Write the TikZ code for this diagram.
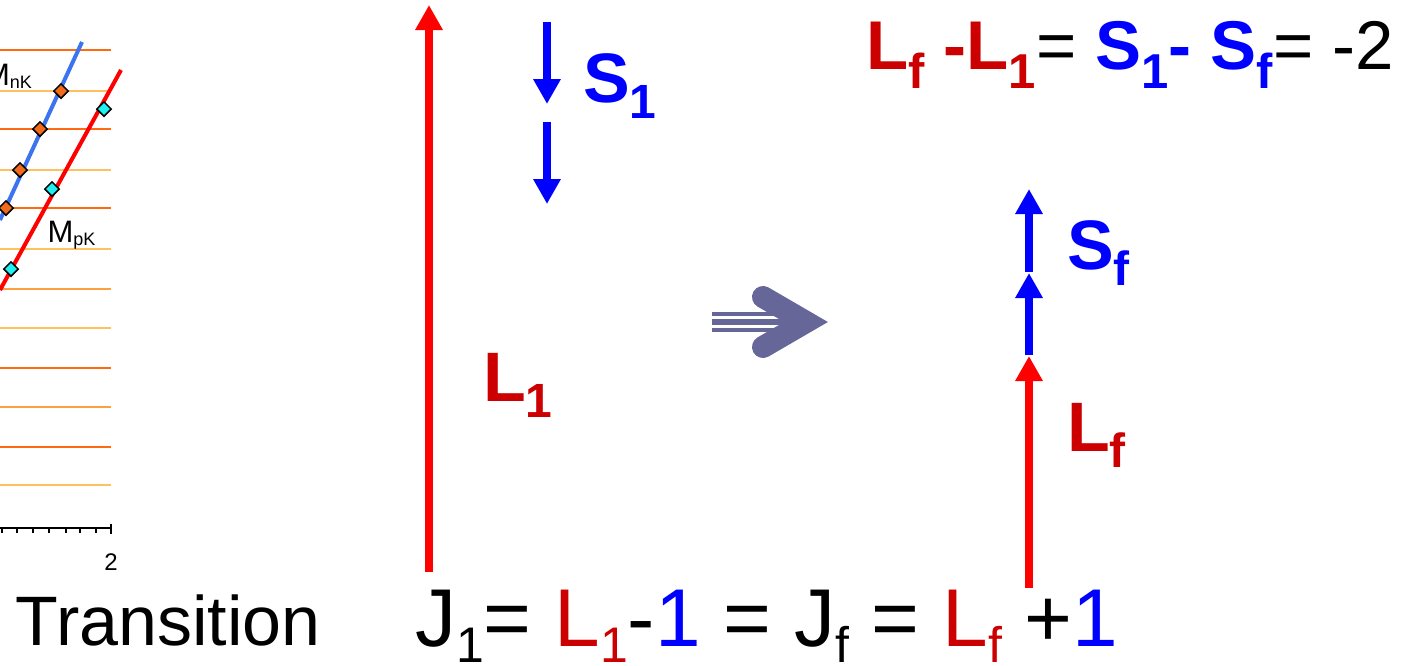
\documentclass[tikz,border=0pt]{standalone}
\usepackage{fontspec}
\setmainfont{Liberation Sans}
\usetikzlibrary{arrows.meta,shapes.geometric}
\definecolor{dred}{HTML}{CC0000}
\definecolor{ared}{HTML}{FF0000}
\definecolor{eblue}{HTML}{0000FF}
\definecolor{purp}{HTML}{666699}
\definecolor{gdark}{HTML}{FF6A10}
\definecolor{gmid}{HTML}{FFA040}
\definecolor{glight}{HTML}{FFC060}
\definecolor{dorange}{HTML}{F26B1D}
\definecolor{dcyan}{HTML}{20F0F0}
\definecolor{lblue}{HTML}{3C74F0}
\newcommand\tsub[1]{\raisebox{-9.5pt}{\fontsize{24.5pt}{24.5pt}\selectfont #1}}
\newcommand\bsub[1]{\raisebox{-8pt}{\fontsize{25pt}{25pt}\selectfont #1}}
\newcommand\lsub[1]{\raisebox{-8pt}{\fontsize{24pt}{24pt}\selectfont #1}}
\newcommand\msub[1]{\raisebox{-1.5pt}{\fontsize{9pt}{9pt}\selectfont #1}}
\begin{document}
\begin{tikzpicture}[x=0.5pt,y=-0.5pt,
  vecarrow/.style={line width=4.2pt,-{Triangle[width=13pt,length=12.5pt]}},
  txt/.style={anchor=base west, inner sep=0pt, outer sep=0pt},
  bigtxt/.style={txt, font=\fontsize{35pt}{35pt}\selectfont\bfseries},
  dia/.style={diamond, draw=black, line width=0.75pt, inner sep=0pt, minimum width=7.5pt, minimum height=7.5pt},
  odia/.style={dia, fill=dorange},
  cdia/.style={dia, fill=dcyan},
  gridline/.style={line width=0.6pt}]
\useasboundingbox (0,0) rectangle (1416,665);
\fill[white] (0,0) rectangle (1416,665);

% ---- chart fragment ----
\foreach \yy/\cc in {50/gdark,91/glight,129/gdark,170/glight,208/gdark,249/glight,289/gmid,328/glight,368/gdark,407/gmid,447/gdark,485/glight}
  \draw[gridline,\cc] (0,\yy) -- (111,\yy);
\draw[line width=0.75pt] (0,528) -- (111.5,528);
\foreach \xx in {2,17,33,49,66,80,96}
  \draw[line width=0.6pt] (\xx,528) -- (\xx,533);
\draw[line width=0.75pt] (111,524) -- (111,534);
\node[anchor=base, inner sep=0pt, font=\fontsize{12pt}{12pt}\selectfont] (xlab) at (111,570) {2};

\coordinate (bl0) at (0,220);
\coordinate (bl1) at (82,42);
\coordinate (rl0) at (0,290);
\coordinate (rl1) at (121,70);
\draw[lblue, line width=2pt] (bl0) -- (bl1);
\draw[ared, line width=2pt] (rl0) -- (rl1);
\node[odia] (o1) at (61,91) {};
\node[odia] (o2) at (40,129) {};
\node[odia] (o3) at (20,170) {};
\node[odia] (o4) at (6,208) {};
\node[cdia] (c1) at (104,109) {};
\node[cdia] (c2) at (52,189) {};
\node[cdia] (c3) at (11,269) {};
\node[txt, font=\fontsize{15.5pt}{15.5pt}\selectfont] (mnk) at (-16,85) {M\msub{nK}};
\node[txt, font=\fontsize{15.5pt}{15.5pt}\selectfont] (mpk) at (47.5,242) {M\msub{pK}};

% ---- bottom text ----
\node[txt, font=\fontsize{35pt}{35pt}\selectfont] (trans) at (16,645) {Transition};
\node[txt, font=\fontsize{41pt}{41pt}\selectfont] (boteq) at (415,646)
  {J\bsub{1}= \textcolor{dred}{L\bsub{1}}-\textcolor{eblue}{1} = J\bsub{f} = \textcolor{dred}{L\bsub{f}} +\textcolor{eblue}{1}};

% ---- top equation ----
\node[txt, font=\fontsize{34.5pt}{34.5pt}\selectfont] (topeq) at (866,69)
  {\textcolor{dred}{\bfseries L\tsub{f} -L\tsub{1}}= \textcolor{eblue}{\bfseries S\tsub{1}- S\tsub{f}}= -2};

% ---- initial state ----
\coordinate (L1a) at (429,572);
\coordinate (L1b) at (429,5);
\draw[vecarrow, ared] (L1a) -- (L1b);
\coordinate (S1a) at (547,22);
\coordinate (S1b) at (547,104);
\coordinate (S2a) at (547,122);
\coordinate (S2b) at (547,204);
\draw[vecarrow, eblue] (S1a) -- (S1b);
\draw[vecarrow, eblue] (S2a) -- (S2b);
\node[bigtxt, eblue] (S1lab) at (583,102) {S\lsub{1}};
\node[bigtxt, dred] (L1lab) at (483,401) {L\lsub{1}};

% ---- transition arrow ----
\coordinate (sh0) at (712,314);
\coordinate (sh1) at (790,314);
\coordinate (sm0) at (712,322);
\coordinate (sm1) at (790,322);
\coordinate (sb0) at (712,330);
\coordinate (sb1) at (790,330);
\draw[purp, line width=2.2pt] (sh0) -- (sh1);
\draw[purp, line width=2.6pt] (sm0) -- (sm1);
\draw[purp, line width=2.2pt] (sb0) -- (sb1);
\coordinate (chA) at (763,297);
\coordinate (chV) at (806,322);
\coordinate (chB) at (763,347);
\draw[purp, line width=11pt, line cap=round, line join=miter] (chA) -- (chV) -- (chB);

% ---- final state ----
\coordinate (Lfa) at (1029,588);
\coordinate (Lfb) at (1029,356);
\coordinate (Sfa) at (1029,355);
\coordinate (Sfb) at (1029,273);
\coordinate (Sga) at (1029,272);
\coordinate (Sgb) at (1029,189);
\draw[vecarrow, ared] (Lfa) -- (Lfb);
\draw[vecarrow, eblue] (Sfa) -- (Sfb);
\draw[vecarrow, eblue] (Sga) -- (Sgb);
\node[bigtxt, eblue] (Sflab) at (1067,269) {S\lsub{f}};
\node[bigtxt, dred] (Lflab) at (1067,451) {L\lsub{f}};
\end{tikzpicture}
\end{document}
